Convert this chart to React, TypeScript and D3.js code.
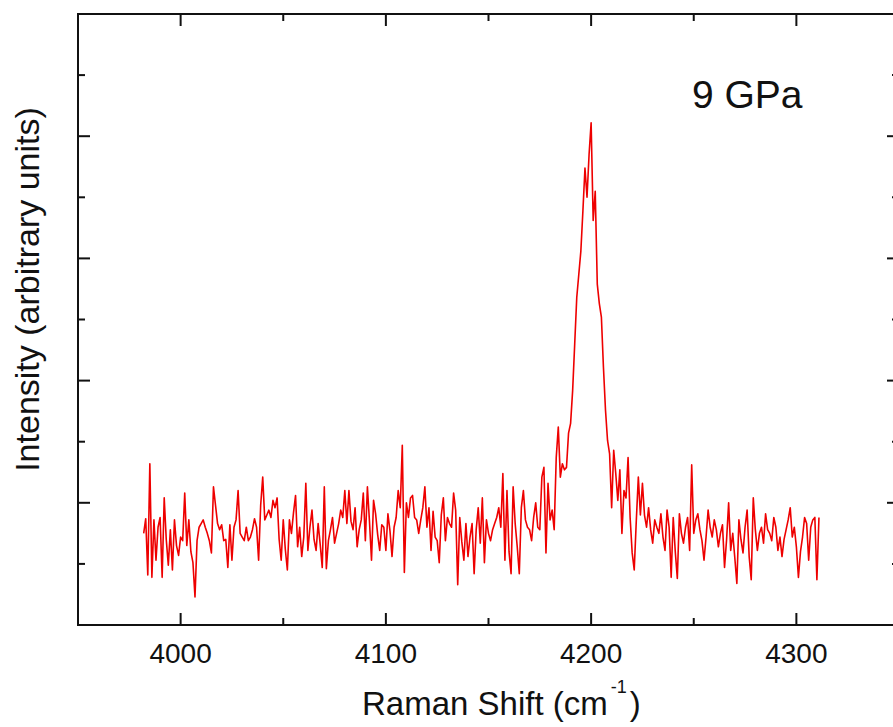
import React from "react";
import * as d3 from "d3";

// Raman spectrum at 9 GPa, one value per cm^-1 starting at 3982 cm^-1
const shiftStart = 3982;
const shiftStep = 1;
const intensity: number[] = [
  0.75, 0.87, 0.41, 1.32, 0.39, 0.86, 0.53, 0.8, 0.88, 0.39,
  1.04, 0.7, 0.49, 0.78, 0.45, 0.86, 0.65, 0.57, 0.72, 0.69,
  1.08, 0.65, 0.86, 0.6, 0.51, 0.23, 0.69, 0.8, 0.83, 0.86,
  0.8, 0.75, 0.69, 0.59, 1.13, 0.98, 0.83, 0.78, 0.82, 0.69,
  0.7, 0.47, 0.82, 0.53, 0.8, 0.86, 1.1, 0.75, 0.72, 0.69,
  0.8, 0.69, 0.72, 0.78, 0.87, 0.8, 0.53, 0.98, 1.21, 0.86,
  0.9, 0.94, 0.88, 1.02, 0.96, 1.04, 0.7, 0.53, 0.86, 0.62,
  0.45, 0.86, 0.75, 0.92, 1.06, 0.64, 0.8, 0.56, 0.72, 1.16,
  0.61, 0.8, 0.94, 0.7, 0.61, 0.83, 0.66, 0.47, 1.13, 0.46,
  0.69, 0.78, 0.88, 0.67, 0.75, 0.83, 0.94, 0.88, 1.1, 0.83,
  1.1, 0.85, 0.78, 0.96, 0.64, 0.78, 0.86, 1.08, 0.69, 1.13,
  0.85, 0.53, 1.02, 0.91, 0.74, 0.61, 0.82, 0.8, 0.61, 0.91,
  0.77, 0.56, 0.8, 0.88, 1.1, 0.96, 1.47, 0.43, 1.0, 0.88,
  1.04, 1.06, 0.88, 0.86, 0.75, 0.86, 0.96, 1.13, 0.8, 0.96,
  0.61, 0.93, 0.72, 0.69, 0.51, 0.9, 1.04, 0.69, 0.88, 0.83,
  0.8, 1.08, 0.94, 0.33, 0.88, 0.68, 0.53, 0.83, 0.56, 0.72,
  0.83, 0.42, 0.78, 0.96, 0.67, 1.04, 0.51, 0.86, 0.75, 0.69,
  0.78, 0.83, 0.88, 0.96, 0.8, 1.24, 0.53, 1.1, 0.6, 0.42,
  1.13, 0.83, 0.64, 0.42, 0.96, 1.1, 0.86, 0.8, 0.78, 0.69,
  0.88, 1.0, 0.8, 0.78, 1.21, 1.29, 0.59, 1.16, 0.86, 0.94,
  0.78, 1.37, 1.62, 1.21, 1.32, 1.27, 1.29, 1.57, 1.65, 1.92,
  2.3, 2.68, 2.87, 3.06, 3.39, 3.74, 3.5, 3.85, 4.11, 3.31,
  3.55, 2.79, 2.63, 2.52, 2.11, 1.76, 1.51, 1.4, 0.96, 1.43,
  1.24, 1.02, 1.27, 0.75, 1.1, 1.04, 1.37, 0.88, 0.59, 0.45,
  0.85, 1.21, 0.9, 1.16, 0.9, 0.8, 0.96, 0.78, 0.67, 0.86,
  0.8, 0.75, 0.91, 0.72, 0.61, 0.94, 0.8, 0.39, 0.88, 0.6,
  0.38, 0.91, 0.75, 0.67, 0.8, 0.88, 0.61, 1.31, 0.75, 0.86,
  0.91, 0.78, 0.69, 0.53, 0.72, 0.94, 0.8, 0.72, 0.86, 0.78,
  0.64, 0.75, 0.82, 0.47, 0.7, 1.0, 0.61, 0.75, 0.55, 0.34,
  0.86, 0.7, 0.59, 0.8, 0.94, 0.56, 0.37, 1.04, 0.78, 0.61,
  0.75, 0.8, 0.67, 0.91, 0.78, 0.75, 0.69, 0.88, 0.8, 0.61,
  0.72, 0.56, 0.7, 0.78, 0.86, 0.96, 0.72, 0.8, 0.64, 0.39,
  0.6, 0.72, 0.88, 0.83, 0.53, 0.8, 0.86, 0.88, 0.37, 0.88,
];

const xDomain: [number, number] = [3950, 4350];
const yDomain: [number, number] = [0, 5];
const xMajorTicks = [4000, 4100, 4200, 4300];
const xMinorTicks = [4050, 4150, 4250];
const yMajorTicks = [1, 2, 3, 4];
const yMinorTicks = [0.5, 1.5, 2.5, 3.5, 4.5];
const xTitle = "Raman Shift (cm";
const xTitleSup = "-1";
const yTitle = "Intensity (arbitrary units)";
const annotation = "9 GPa";

const W = 893;
const H = 727;
const M = { left: 78, right: 899, top: 14, bottom: 625 };
const FONT = "'Liberation Sans', Arial, sans-serif";

export default function App() {
  const x = d3.scaleLinear().domain(xDomain).range([M.left, M.right]);
  const y = d3.scaleLinear().domain(yDomain).range([M.bottom, M.top]);
  const pts: [number, number][] = intensity.map((v, i) => [shiftStart + i * shiftStep, v]);
  const line = d3
    .line<[number, number]>()
    .x((d) => x(d[0]))
    .y((d) => y(d[1]));

  const major = 12;
  const minor = 7;
  const axisColor = "#111";

  return (
    <svg
      width={W}
      height={H}
      style={{ position: "absolute", left: 0, top: 0, background: "#fff" }}
      fontFamily={FONT}
    >
      <rect x={0} y={0} width={W} height={H} fill="#fff" />
      <path d={line(pts) || ""} fill="none" stroke="#ee0000" strokeWidth={1.6} strokeLinejoin="round" />

      {/* frame */}
      <rect
        x={M.left}
        y={M.top}
        width={M.right - M.left}
        height={M.bottom - M.top}
        fill="none"
        stroke={axisColor}
        strokeWidth={2}
      />

      {/* x ticks bottom & top */}
      {xMajorTicks.map((t) => (
        <g key={"xM" + t}>
          <line x1={x(t)} x2={x(t)} y1={M.bottom} y2={M.bottom - major} stroke={axisColor} strokeWidth={2} />
          <line x1={x(t)} x2={x(t)} y1={M.top} y2={M.top + major} stroke={axisColor} strokeWidth={2} />
          <text x={x(t)} y={663} textAnchor="middle" fontSize={28} fill="#111">
            {t}
          </text>
        </g>
      ))}
      {xMinorTicks.map((t) => (
        <g key={"xm" + t}>
          <line x1={x(t)} x2={x(t)} y1={M.bottom} y2={M.bottom - minor} stroke={axisColor} strokeWidth={2} />
          <line x1={x(t)} x2={x(t)} y1={M.top} y2={M.top + minor} stroke={axisColor} strokeWidth={2} />
        </g>
      ))}

      {/* y ticks left & right */}
      {yMajorTicks.map((t) => (
        <g key={"yM" + t}>
          <line x1={M.left} x2={M.left + major} y1={y(t)} y2={y(t)} stroke={axisColor} strokeWidth={2} />
          <line x1={M.right} x2={M.right - major} y1={y(t)} y2={y(t)} stroke={axisColor} strokeWidth={2} />
        </g>
      ))}
      {yMinorTicks.map((t) => (
        <g key={"ym" + t}>
          <line x1={M.left} x2={M.left + minor} y1={y(t)} y2={y(t)} stroke={axisColor} strokeWidth={2} />
          <line x1={M.right} x2={M.right - minor} y1={y(t)} y2={y(t)} stroke={axisColor} strokeWidth={2} />
        </g>
      ))}

      {/* axis titles */}
      <text x={362} y={715} fontSize={33} fill="#111">
        {xTitle}
        <tspan fontSize={18} dx={3} dy={-22}>
          {xTitleSup}
        </tspan>
        <tspan dx={3} dy={22}>)</tspan>
      </text>
      <text
        transform={`translate(39, ${(107 + 472) / 2}) rotate(-90)`}
        textAnchor="middle"
        fontSize={34}
        fill="#111"
      >
        {yTitle}
      </text>

      <text x={692} y={108} fontSize={39} fill="#111">
        {annotation}
      </text>
    </svg>
  );
}
